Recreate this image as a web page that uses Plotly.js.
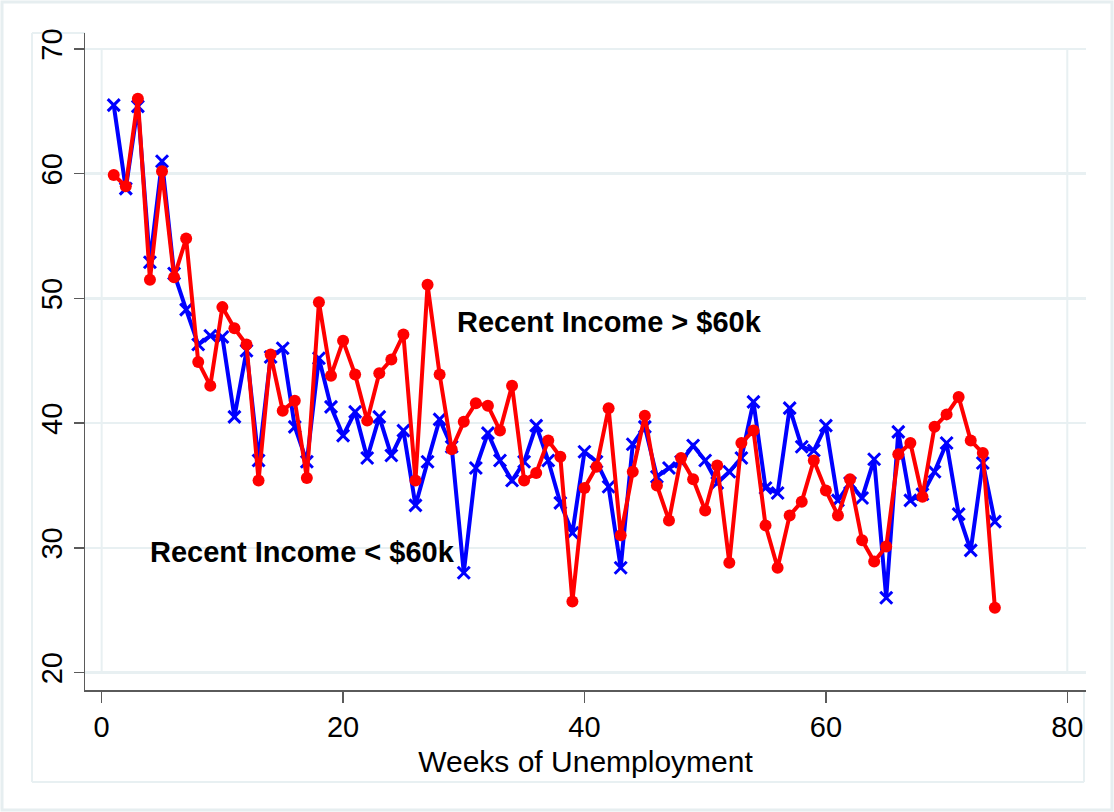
<!DOCTYPE html>
<html>
<head>
<meta charset="utf-8">
<script src="https://cdn.plot.ly/plotly-3.0.1.min.js"></script>
<style>
  html, body { margin: 0; padding: 0; background: #ffffff; }
  #chart { width: 1114px; height: 812px; }
</style>
</head>
<body>
<div id="chart"></div>
<script>
// ---- Data ----
const weeks = [1,2,3,4,5,6,7,8,9,10,11,12,13,14,15,16,17,18,19,20,
  21,22,23,24,25,26,27,28,29,30,31,32,33,34,35,36,37,38,39,40,
  41,42,43,44,45,46,47,48,49,50,51,52,53,54,55,56,57,58,59,60,
  61,62,63,64,65,66,67,68,69,70,71,72,73,74];

const incomeBelow60k = [65.5,58.8,65.4,52.9,61.0,52.0,49.1,46.3,47.0,46.9,
  40.5,45.8,37.0,45.3,46.0,39.7,36.9,45.2,41.3,39.0,
  40.9,37.2,40.5,37.4,39.4,33.4,36.9,40.3,38.1,28.0,
  36.4,39.2,37.0,35.4,36.9,39.8,37.0,33.6,31.2,37.7,
  36.9,34.9,28.4,38.3,39.7,35.7,36.4,36.9,38.2,37.0,
  35.2,36.1,37.2,41.7,34.8,34.4,41.2,38.1,37.8,39.8,
  33.8,35.2,34.0,37.1,26.0,39.3,33.8,34.3,36.1,38.4,
  32.7,29.8,36.8,32.1];

const incomeAbove60k = [59.9,59.0,66.0,51.5,60.2,51.7,54.8,44.9,43.0,49.3,
  47.6,46.3,35.4,45.5,41.0,41.8,35.6,49.7,43.8,46.6,
  43.9,40.2,44.0,45.1,47.1,35.4,51.1,43.9,37.9,40.1,
  41.6,41.4,39.4,43.0,35.4,36.0,38.6,37.3,25.7,34.8,
  36.5,41.2,31.0,36.1,40.6,35.0,32.2,37.2,35.5,33.0,
  36.6,28.8,38.4,39.4,31.8,28.4,32.6,33.7,37.0,34.6,
  32.6,35.5,30.6,28.9,30.1,37.5,38.4,34.1,39.7,40.7,
  42.1,38.6,37.6,25.2];

const xTickVals = [0, 20, 40, 60, 80];
const yTickVals = [20, 30, 40, 50, 60, 70];
const labelAbove = 'Recent Income > $60k';
const labelBelow = 'Recent Income < $60k';
const xTitle = 'Weeks of Unemployment';

// ---- Layout geometry (pixels) ----
const W = 1114, H = 812;
const M = { l: 85, r: 28, t: 33, b: 122 };
const PW = W - M.l - M.r, PH = H - M.t - M.b;
const px = v => (v - M.l) / PW;          // pixel x -> paper x
const py = v => 1 - (v - M.t) / PH;      // pixel y -> paper y

const frameCol = '#e6eef0';
const gridCol = '#e8f0f2';
const axisCol = '#5a5a5a';
const FONT = '"Liberation Sans", Arial, sans-serif';

function seg(x0, y0, x1, y1, col, w) {
  return { type: 'line', xref: 'paper', yref: 'paper',
    x0: px(x0), y0: py(y0), x1: px(x1), y1: py(y1),
    line: { color: col, width: w }, layer: 'below' };
}

const shapes = [
  // outer frame
  { type: 'rect', xref: 'paper', yref: 'paper',
    x0: px(2), y0: py(810), x1: px(1112), y1: py(2),
    line: { color: frameCol, width: 3 }, layer: 'below' },
  // inner graph-region box (visible parts)
  seg(32, 33, 32, 782, gridCol, 2),
  seg(32, 33, 85, 33, gridCol, 2),
  seg(32, 782, 1084, 782, gridCol, 2),
  seg(1084, 690, 1084, 782, gridCol, 2),
  // plot-region outline
  { type: 'rect', xref: 'x', yref: 'y',
    x0: xTickVals[0], x1: xTickVals[xTickVals.length - 1],
    y0: yTickVals[0], y1: yTickVals[yTickVals.length - 1],
    line: { color: gridCol, width: 2 }, layer: 'below' }
];

const traces = [
  {
    x: weeks, y: incomeBelow60k, type: 'scatter', mode: 'lines+markers',
    name: labelBelow,
    line: { color: '#0000ff', width: 4 },
    marker: { symbol: 'x-thin', size: 12, color: '#0000ff',
      line: { color: '#0000ff', width: 3 } },
    hoverinfo: 'x+y'
  },
  {
    x: weeks, y: incomeAbove60k, type: 'scatter', mode: 'lines+markers',
    name: labelAbove,
    line: { color: '#ff0000', width: 4 },
    marker: { symbol: 'circle', size: 12, color: '#ff0000' },
    hoverinfo: 'x+y'
  }
];

const layout = {
  width: W, height: H,
  margin: M,
  paper_bgcolor: '#ffffff',
  plot_bgcolor: '#ffffff',
  showlegend: false,
  font: { family: FONT, color: '#000000' },
  xaxis: {
    range: [-1.38, 81.55],
    tickvals: xTickVals,
    ticks: 'outside', ticklen: 11, tickwidth: 1.5, tickcolor: axisCol,
    showline: true, linecolor: axisCol, linewidth: 1.5,
    showgrid: false, zeroline: false,
    tickfont: { family: FONT, size: 29, color: '#000000' },
    title: { text: xTitle, font: { family: FONT, size: 30, color: '#000000' }, standoff: 8 }
  },
  yaxis: {
    range: [18.6, 71.28],
    tickvals: yTickVals,
    ticks: 'outside', ticklen: 10, tickwidth: 1.5, tickcolor: axisCol,
    tickangle: -90,
    showline: true, linecolor: axisCol, linewidth: 1.5,
    showgrid: true, gridcolor: gridCol, gridwidth: 2.5,
    zeroline: false,
    tickfont: { family: FONT, size: 29, color: '#000000' }
  },
  shapes: shapes,
  annotations: [
    { x: 29.3, y: 48.1, xref: 'x', yref: 'y', text: '<b>' + labelAbove + '</b>',
      showarrow: false, xanchor: 'left', yanchor: 'middle',
      font: { family: FONT, size: 29, color: '#000000' } },
    { x: 3.8, y: 29.7, xref: 'x', yref: 'y', text: '<b>' + labelBelow + '</b>',
      showarrow: false, xanchor: 'left', yanchor: 'middle',
      font: { family: FONT, size: 29, color: '#000000' } }
  ]
};

Plotly.newPlot('chart', traces, layout, { displayModeBar: false, staticPlot: true });
</script>
</body>
</html>
